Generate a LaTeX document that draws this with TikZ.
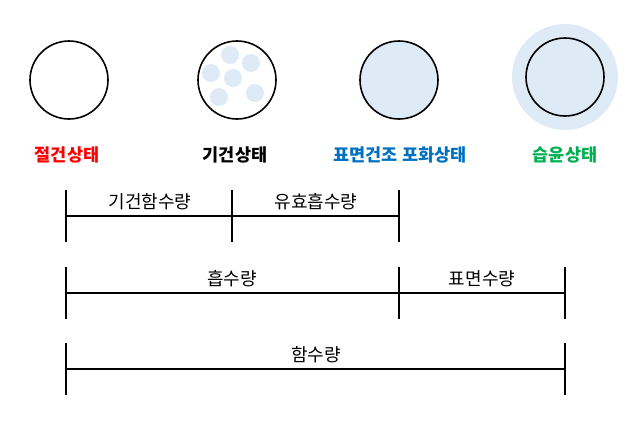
\documentclass[tikz,border=0pt]{standalone}
\usepackage{fontspec}
\setmainfont{Noto Sans CJK KR}
\definecolor{wetblue}{RGB}{222,234,246}
\definecolor{labred}{RGB}{255,0,0}
\definecolor{labblue}{RGB}{0,112,192}
\definecolor{labgreen}{RGB}{0,176,80}
\begin{document}
\begin{tikzpicture}[x=1pt,y=-1pt]
    \tikzset{wood/.style = {shape = circle,draw=black,line width=1.6pt,minimum size = 78pt,inner sep = 0pt}, blob/.style = {shape = circle,fill=wetblue,minimum size = 18pt,inner sep = 0pt}, state/.style = {font=\bfseries\fontsize{17.5}{20}\selectfont,inner sep = 0pt}, amount/.style = {font=\fontsize{18}{21}\selectfont,inner sep = 0pt}, bar/.style = {line width=1.6pt}}
    \useasboundingbox (0,0) rectangle (644,424);
    \def\y{80}
    \def\ly{155}
    % wood states
    \node[wood] (dry) at (69,\y){};
    \node[blob] (b1) at (230,55){};
    \node[blob] (b2) at (251,63){};
    \node[blob] (b3) at (211,73){};
    \node[blob] (b4) at (233,78){};
    \node[blob] (b5) at (219,97){};
    \node[blob] (b6) at (255,93){};
    \node[wood] (air) at (237,\y){};
    \node[wood,fill=wetblue] (fsp) at (399,\y){};
    \node[shape=circle,fill=wetblue,minimum size = 106pt] (halo) at (565,77){};
    \node[wood] (wet) at (565,77){};
    \node[state,text=labred] (l1) at (67,\ly){절건상태};
    \node[state] (l2) at (235,\ly){기건상태};
    \node[state,text=labblue] (l3) at (400,\ly){표면건조 포화상태};
    \node[state,text=labgreen] (l4) at (565,\ly){습윤상태};
    % bars
    \foreach \r/\ty in {1/216,2/293,3/369}{
        \foreach \c/\tx in {a/66,b/232,c/399,d/565}{
            \coordinate (\c\r) at (\tx,\ty);
            \coordinate (\c\r t) at (\tx,\ty-26);
            \coordinate (\c\r b) at (\tx,\ty+26);
        }
    }
    \draw[bar] (a1t) -- (a1b) (b1t) -- (b1b) (c1t) -- (c1b) (a1) -- (c1);
    \draw[bar] (a2t) -- (a2b) (c2t) -- (c2b) (d2t) -- (d2b) (a2) -- (d2);
    \draw[bar] (a3t) -- (a3b) (d3t) -- (d3b) (a3) -- (d3);
    \node[amount] (m1) at (150,202){기건함수량};
    \node[amount] (m2) at (316,202){유효흡수량};
    \node[amount] (m3) at (232,279){흡수량};
    \node[amount] (m4) at (482,279){표면수량};
    \node[amount] (m5) at (316,355){함수량};
\end{tikzpicture}
\end{document}
